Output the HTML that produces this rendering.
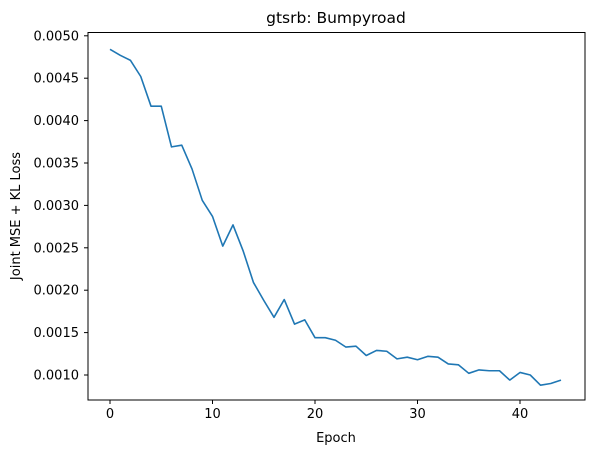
<!DOCTYPE html>
<html><head><meta charset="utf-8"><style>
body{margin:0;background:#fff;}
svg{display:block;font-family:"DejaVu Sans","Liberation Sans",sans-serif;}
</style></head><body>
<svg id="chart" width="593" height="455">
<text x="336" y="23" text-anchor="middle" font-size="15.5">gtsrb: Bumpyroad</text>
<text x="336" y="442" text-anchor="middle" font-size="13">Epoch</text>
<text transform="translate(20,216) rotate(-90)" text-anchor="middle" font-size="13">Joint MSE + KL Loss</text>
<g id="ticks"></g>
<polyline id="line" fill="none" stroke="#1f77b4" stroke-width="1.6" stroke-linejoin="round"/>
<rect x="88" y="32.5" width="497" height="367.5" fill="none" stroke="#000" stroke-width="1"/>
</svg>
<script>
const epochs=[...Array(45).keys()];
const losses=[0.00484,0.00477,0.00471,0.00452,0.00417,0.00417,0.00369,0.00371,0.00343,0.00306,0.00287,0.00252,0.00277,0.00246,0.00209,0.00188,0.00168,0.00189,0.00160,0.00165,0.00144,0.00144,0.00141,0.00133,0.00134,0.00123,0.00129,0.00128,0.00119,0.00121,0.00118,0.00122,0.00121,0.00113,0.00112,0.00102,0.00106,0.00105,0.00105,0.00094,0.00103,0.00100,0.00088,0.00090,0.00094];
const xTicks=[0,10,20,30,40];
const yTicks=[0.0010,0.0015,0.0020,0.0025,0.0030,0.0035,0.0040,0.0045,0.0050];
const xs=v=>110+v*10.25;
const ys=v=>375-(v-0.0010)*84800;
const NS="http://www.w3.org/2000/svg";
const g=document.getElementById('ticks');
function mk(t,a){const e=document.createElementNS(NS,t);for(const k in a)e.setAttribute(k,a[k]);g.appendChild(e);return e;}
xTicks.forEach(t=>{
 const l=mk('line',{x1:xs(t),x2:xs(t),y1:400,y2:404,stroke:'#000'});
 
 
 const tx=mk('text',{x:xs(t),y:418,'text-anchor':'middle','font-size':13});
 tx.textContent=t;
 
 
});
yTicks.forEach(t=>{
 const l=mk('line',{x1:84,x2:88,y1:ys(t),y2:ys(t),stroke:'#000'});
 
 
 const tx=mk('text',{x:79,y:ys(t)+4.5,'text-anchor':'end','font-size':13});
 tx.textContent=t.toFixed(4);
 
 
});
document.getElementById('line').setAttribute('points',epochs.map((e,i)=>xs(e)+','+ys(losses[i])).join(' '));
</script>
</body></html>
